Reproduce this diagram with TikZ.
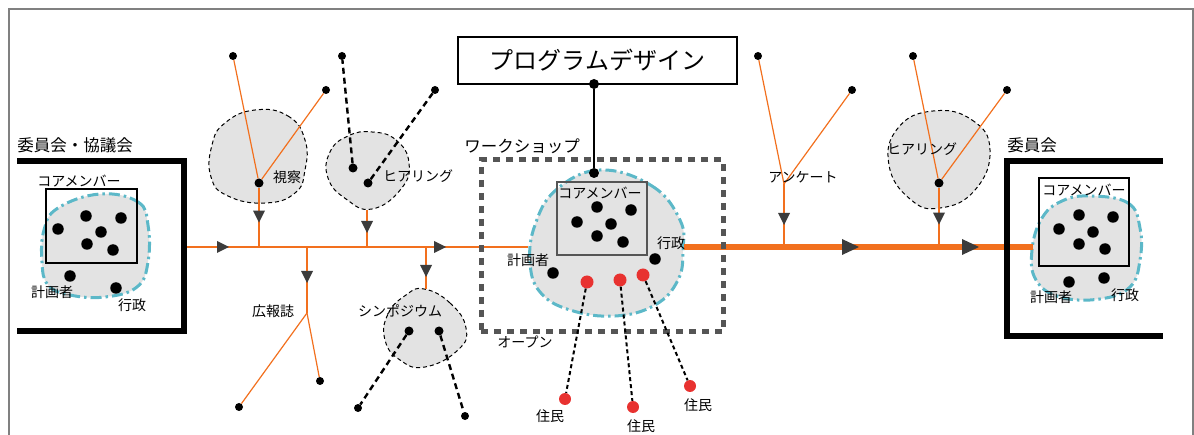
\documentclass[tikz,border=0pt]{standalone}
\usepackage{fontspec}
\setmainfont{Noto Sans CJK JP}
\usetikzlibrary{decorations.markings}

\definecolor{org}{RGB}{242,112,30}
\definecolor{tealb}{RGB}{92,184,200}
\definecolor{blobg}{RGB}{227,227,227}
\definecolor{arrg}{RGB}{60,60,60}
\definecolor{frameg}{RGB}{128,128,128}
\definecolor{wsg}{RGB}{85,85,85}
\definecolor{resred}{RGB}{232,50,48}

\tikzset{
  bdot/.style={circle, fill=black, inner sep=0pt, minimum size=#1},
  rdot/.style={circle, fill=resred, inner sep=0pt, minimum size=#1},
  lbl/.style={inner sep=0pt, font=\fontsize{14}{16}\selectfont},
  ttl/.style={inner sep=0pt, font=\fontsize{16.5}{19}\selectfont},
  thinor/.style={draw=org, line width=1.6pt},
  branchor/.style={draw=org, line width=1.2pt},
  thickor/.style={draw=org, line width=6pt},
  bdash/.style={draw=black, line width=2.4pt, dash pattern=on 6pt off 4pt},
  rdash/.style={draw=black, line width=2pt, dash pattern=on 4pt off 3pt},
  grayblob/.style={fill=blobg, draw=black, line width=1pt, dash pattern=on 4pt off 3pt},
  tealblob/.style={fill=blobg, draw=tealb, line width=3pt, dash pattern=on 11pt off 4pt on 2.5pt off 4pt},
  bracket/.style={draw=black, line width=5.5pt},
  corebox/.style={draw=#1, line width=1.4pt, inner sep=0pt, fill=none},
  atri/.style={postaction={decorate, decoration={markings,
      mark=at position #1 with {\fill[arrg] (-12pt,-6pt) -- (0pt,0pt) -- (-12pt,6pt) -- cycle;}}}},
  btri/.style={postaction={decorate, decoration={markings,
      mark=at position #1 with {\fill[arrg] (-17pt,-8pt) -- (0pt,0pt) -- (-17pt,8pt) -- cycle;}}}},
}

\begin{document}
\begin{tikzpicture}[x=1pt,y=-1pt]
\useasboundingbox (0,0) rectangle (1194,435);
% frame
\draw[frameg, line width=2pt] (9,440) -- (9,9) -- (1193,9) -- (1193,440);

% ---------- blobs ----------
\draw[grayblob] plot[smooth cycle, tension=0.8] coordinates {(255,110) (288,116) (305,140) (305,170) (295,193) (265,203) (228,196) (211,177) (212,145) (225,123)};
\draw[grayblob] plot[smooth cycle, tension=0.8] coordinates {(372,132) (396,140) (409,163) (401,189) (372,209) (346,199) (328,178) (330,152) (348,136)};
\draw[grayblob] plot[smooth cycle, tension=0.8] coordinates {(424,289) (450,303) (466,328) (458,350) (425,367) (400,360) (385,340) (388,314) (406,295)};
\draw[grayblob] plot[smooth cycle, tension=0.8] coordinates {(933,111) (972,120) (990,150) (975,190) (940,208) (910,199) (889,165) (898,128)};

\draw[tealblob] plot[smooth cycle, tension=0.7] coordinates {(100,194) (138,202) (148,225) (148,262) (137,287) (105,297) (70,295) (48,285) (42,262) (44,230) (58,208)};
\draw[tealblob] plot[smooth cycle, tension=0.7] coordinates {(600,170) (652,186) (680,220) (683,250) (678,280) (655,305) (615,316) (570,310) (540,292) (530,262) (535,225) (556,190)};
\draw[tealblob] plot[smooth cycle, tension=0.7] coordinates {(1090,196) (1128,203) (1140,228) (1140,260) (1130,287) (1100,299) (1060,297) (1036,280) (1032,250) (1042,218) (1062,201)};

% ---------- coordinates ----------
\coordinate (lcR) at (185,247);
\coordinate (wsL) at (528,247);
\coordinate (wsR) at (684,247);
\coordinate (rcL) at (1033,247);
\coordinate (j1) at (259,247);
\coordinate (j2) at (367,247);
\coordinate (j3) at (307,247);
\coordinate (j4) at (426,247);
\coordinate (j5) at (784,247);
\coordinate (j6) at (939,247);
\coordinate (h1b) at (367,210);
\coordinate (k1) at (307,313);
\coordinate (syt) at (426,289);
\coordinate (an) at (784,184);

% ---------- main lines ----------
\draw[thinor, atri=44pt, atri=261pt] (lcR) -- (wsL);
\draw[thickor, btri=175pt, btri=295pt] (wsR) -- (rcL);

% ---------- brackets ----------
\draw[bracket] (17,161) -- (184,161) -- (184,331) -- (17,331);
\draw[bracket] (1163,161) -- (1007,161) -- (1007,336) -- (1163,336);

% ---------- boxes ----------
\node[corebox=black, minimum width=91pt, minimum height=74pt] (lcore) at (91.5,226) {};
\node[corebox=wsg, minimum width=90pt, minimum height=73pt] (wcore) at (602,218.5) {};
\node[corebox=black, minimum width=90pt, minimum height=88pt] (rcore) at (1084,222) {};
\node[draw=wsg, line width=5pt, dash pattern=on 7pt off 6pt, inner sep=0pt, minimum width=242pt, minimum height=172pt] (ws) at (602,246) {};
\node[draw=black, line width=1.5pt, inner sep=0pt, minimum width=279pt, minimum height=47pt, font=\fontsize{24}{28}\selectfont] (pd) at (597.5,60.5) {プログラムデザイン};

% ---------- dots ----------
\foreach \n/\p in {a1/{86,216}, a2/{121,218}, a3/{58,229}, a4/{101,232}, a5/{87,244}, a6/{113,250}, a7/{70,276}, a8/{116,288}}
  \node[bdot=11.5pt] (l\n) at (\p) {};
\foreach \n/\p in {a1/{1079,215}, a2/{1113,217}, a3/{1059,229}, a4/{1093,232}, a5/{1079,244}, a6/{1105,249}, a7/{1069,282}, a8/{1104,278}}
  \node[bdot=11.5pt] (r\n) at (\p) {};
\foreach \n/\p in {a1/{597,207}, a2/{631,210}, a3/{577,222}, a4/{611,224}, a5/{597,236}, a6/{623,242}, a7/{655,259}, a8/{553,273}}
  \node[bdot=11.5pt] (w\n) at (\p) {};
\node[rdot=13pt] (r1) at (587,282) {};
\node[rdot=13pt] (r2) at (620,280) {};
\node[rdot=13pt] (r3) at (643,275) {};
\node[rdot=12pt] (q1) at (565,399) {};
\node[rdot=12pt] (q2) at (633,407) {};
\node[rdot=12pt] (q3) at (690,386) {};

\node[bdot=9pt] (s1) at (259,183) {};
\node[bdot=8pt] (e1) at (233,56) {};
\node[bdot=8pt] (e2) at (326,90) {};
\node[bdot=9pt] (h1a) at (353,168) {};
\node[bdot=9pt] (h1c) at (368,183) {};
\node[bdot=8pt] (e3) at (342,56) {};
\node[bdot=8pt] (e4) at (435,90) {};
\node[bdot=8pt] (e5) at (239,407) {};
\node[bdot=8pt] (e6) at (320,381) {};
\node[bdot=9pt] (sy1) at (409,331) {};
\node[bdot=9pt] (sy2) at (439,331) {};
\node[bdot=8pt] (e7) at (358,408) {};
\node[bdot=8pt] (e8) at (465,416) {};
\node[bdot=8pt] (e9) at (758,56) {};
\node[bdot=8pt] (e10) at (852,90) {};
\node[bdot=9pt] (h2) at (939,183) {};
\node[bdot=8pt] (e11) at (913,56) {};
\node[bdot=8pt] (e12) at (1007,90) {};
\node[bdot=10pt] (p1) at (594,84) {};
\node[bdot=10pt] (p2) at (594,173) {};

% ---------- connectors ----------
\draw[branchor, atri=35pt] (s1) -- (j1);
\draw[branchor] (s1) -- (e1);
\draw[branchor] (s1) -- (e2);
\draw[branchor, atri=23pt] (h1b) -- (j2);
\draw[bdash] (h1a) -- (e3);
\draw[bdash] (h1c) -- (e4);
\draw[branchor, atri=36pt] (j3) -- (k1);
\draw[branchor] (k1) -- (e5);
\draw[branchor] (k1) -- (e6);
\draw[branchor, atri=30pt] (j4) -- (syt);
\draw[bdash] (sy1) -- (e7);
\draw[bdash] (sy2) -- (e8);
\draw[branchor, atri=41pt] (an) -- (j5);
\draw[branchor] (an) -- (e9);
\draw[branchor] (an) -- (e10);
\draw[branchor, atri=37pt] (h2) -- (j6);
\draw[branchor] (h2) -- (e11);
\draw[branchor] (h2) -- (e12);
\draw[black, line width=2pt] (p1) -- (p2);
\draw[rdash] (r1) -- (q1);
\draw[rdash] (r2) -- (q2);
\draw[rdash] (r3) -- (q3);

% ---------- labels ----------
\node[ttl] (lct) at (75,145) {委員会・協議会};
\node[ttl] (rct) at (1032,145) {委員会};
\node[ttl] (wst) at (522,146) {ワークショップ};
\node[lbl] (wso) at (525,342) {オープン};
\node[lbl] (lcm) at (79,181) {コアメンバー};
\node[lbl] (lpl) at (52,292) {計画者};
\node[lbl] (lgy) at (132,305) {行政};
\node[lbl] (wcm) at (600,193) {コアメンバー};
\node[lbl] (wpl) at (528,260) {計画者};
\node[lbl] (wgy) at (671,243) {行政};
\node[lbl] (rcm) at (1084,190) {コアメンバー};
\node[lbl] (rpl) at (1051,297) {計画者};
\node[lbl] (rgy) at (1125,295) {行政};
\node[lbl] (t1) at (287,177) {視察};
\node[lbl] (t2) at (418,176) {ヒアリング};
\node[lbl] (t3) at (273,311) {広報誌};
\node[lbl] (t4) at (400,311) {シンポジウム};
\node[lbl] (t5) at (803,177) {アンケート};
\node[lbl] (t6) at (922,149) {ヒアリング};
\node[lbl] (u1) at (550,416) {住民};
\node[lbl] (u2) at (641,426) {住民};
\node[lbl] (u3) at (698,405) {住民};
\end{tikzpicture}
\end{document}
